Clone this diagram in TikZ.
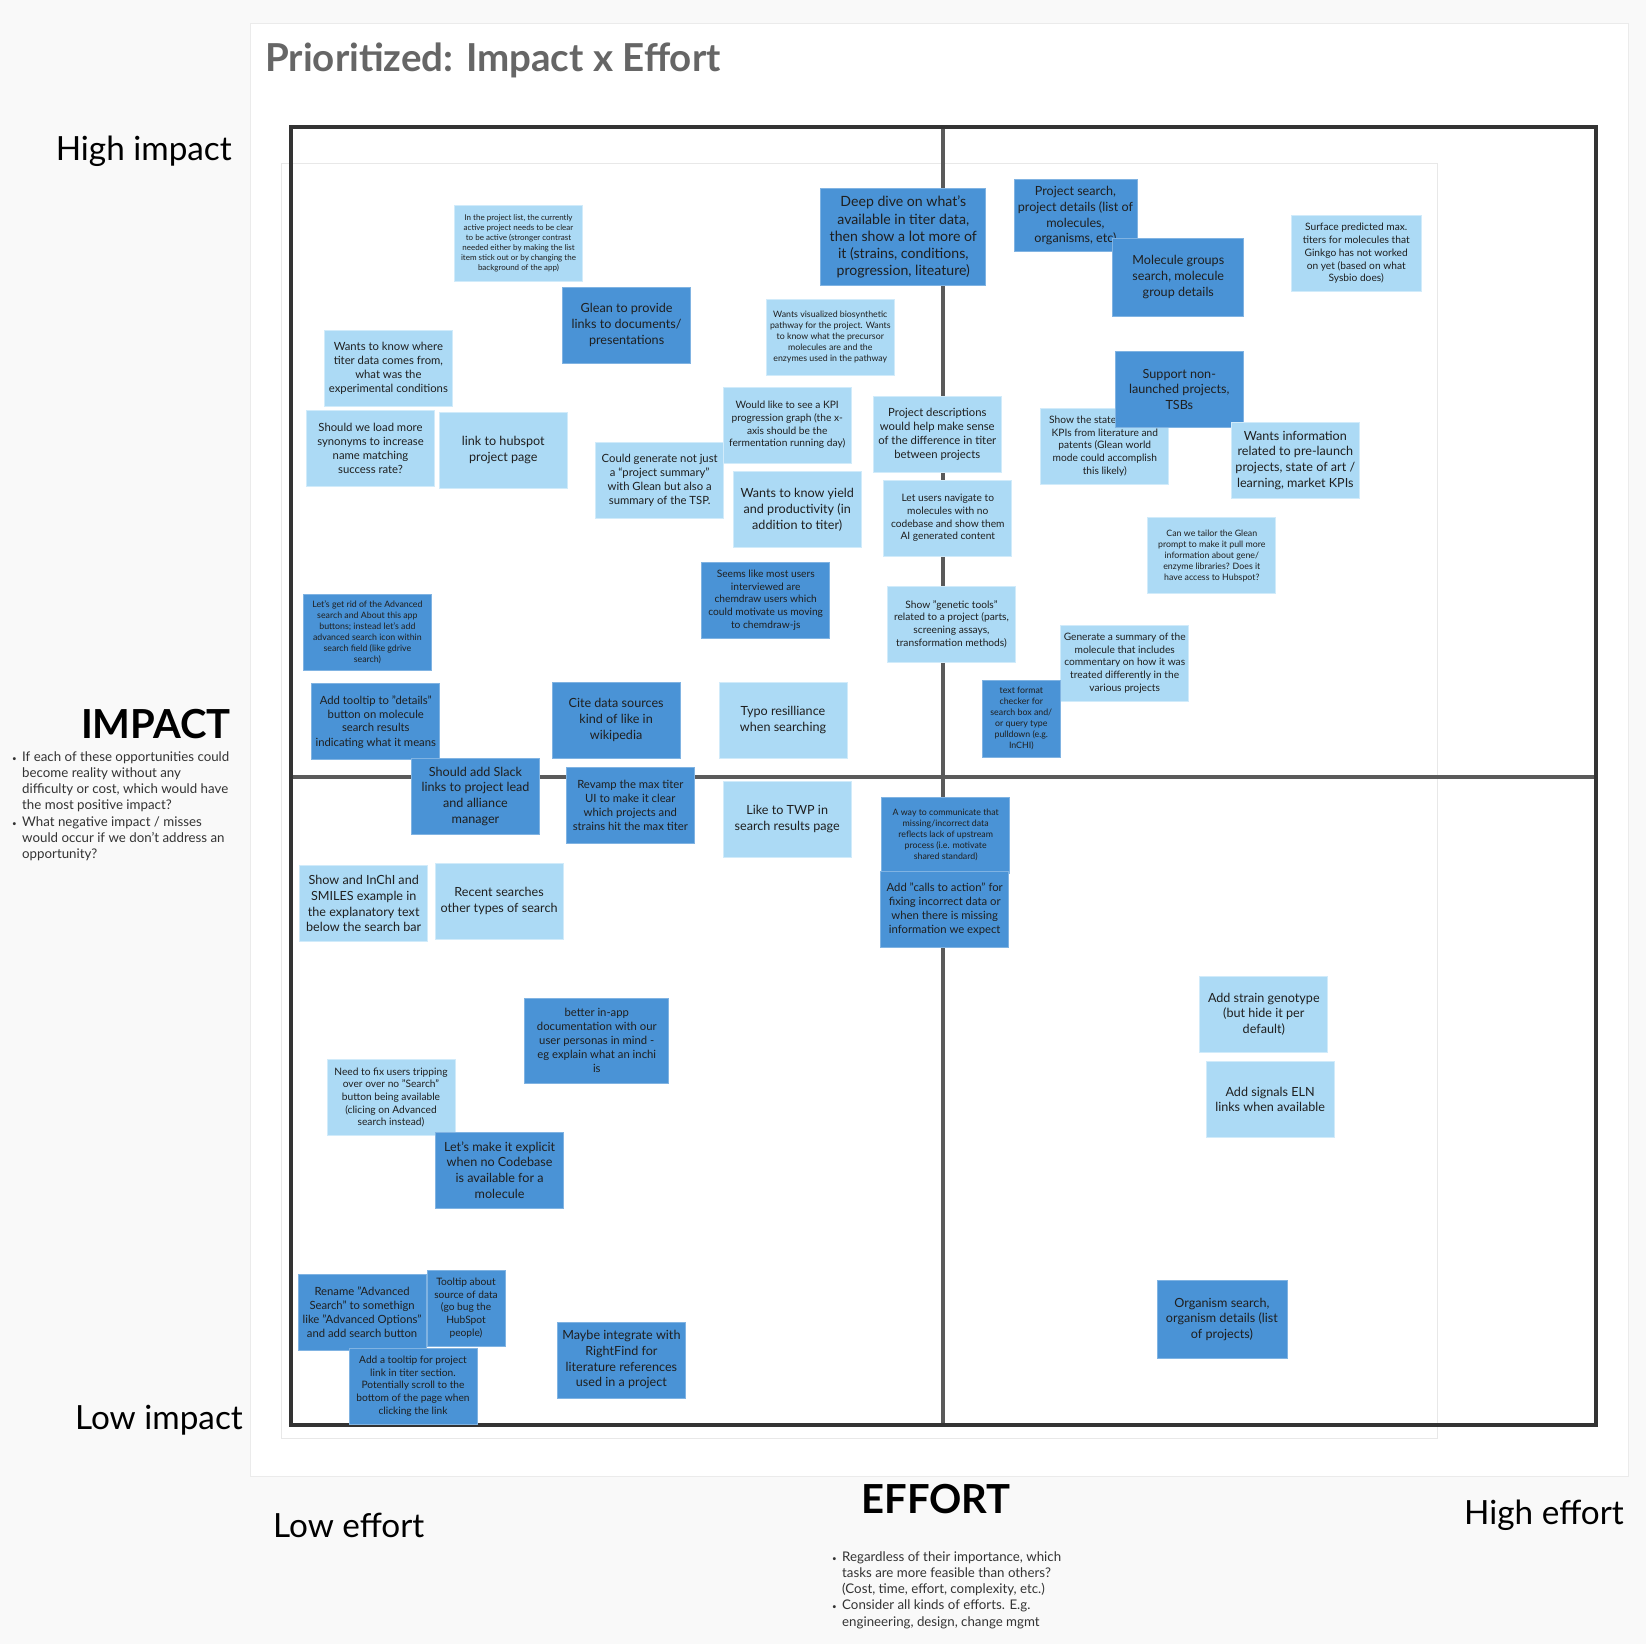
\documentclass[tikz,border=0pt]{standalone}
\usepackage{fontspec}
\setmainfont{Lato}
\usepackage{tikz}
\definecolor{lightnote}{HTML}{ACDAF5}
\definecolor{darknote}{HTML}{4A93D6}
\definecolor{pagegray}{HTML}{F9F9F9}
\definecolor{titlegray}{HTML}{666666}
\definecolor{gridgray}{HTML}{5A5A5A}
\definecolor{framegray}{HTML}{333333}

\begin{document}
\begin{tikzpicture}[x=1pt, y=-1pt,
  note/.style={minimum width=128pt, minimum height=76pt, inner sep=1pt, align=center, text=black!88},
  lnote/.style={note, fill=lightnote, draw=lightnote!55!white, line width=0.8pt},
  dnote/.style={note, fill=darknote, draw=darknote!70!white, line width=0.8pt},
  fa/.style={font=\fontsize{8.0}{9.9}\selectfont},
  fb/.style={font=\fontsize{8.8}{10.9}\selectfont},
  fc/.style={font=\fontsize{10.2}{12.7}\selectfont},
  fd/.style={font=\fontsize{11.3}{14}\selectfont},
  fe/.style={font=\fontsize{12.6}{15.7}\selectfont},
  ff/.style={font=\fontsize{14.1}{17.3}\selectfont},
  axislbl/.style={inner sep=0pt, font=\fontsize{33.3}{38}\selectfont, text=black},
  heading/.style={inner sep=0pt, font=\fontsize{40}{46}\selectfont\bfseries, text=black},
  bul/.style={inner sep=0pt, align=left, font=\fontsize{13.3}{16.3}\selectfont, text=black!80}]
\useasboundingbox (0,0) rectangle (1646,1644);
\fill[pagegray] (0,0) rectangle (1646,1644);
\draw[fill=white, draw=black!8, line width=1pt] (250,23) rectangle (1628,1476);

\node[anchor=west, inner sep=0pt, font=\fontsize{38.5}{44}\selectfont\bfseries, text=titlegray] (title) at (265,60) {Prioritized: Impact x Effort};

% quadrants
\draw[black!9, line width=0.8pt] (281,163) rectangle (1437,1438);
\draw[gridgray, line width=4pt] (943,127) -- (943,1425);
\draw[gridgray, line width=4pt] (291,777) -- (1596,777);
\draw[framegray, line width=3.5pt] (291,127) rectangle (1596,1425);

\node[axislbl, anchor=east] (hiimp) at (232,151) {High impact};
\node[axislbl, anchor=east] (loimp) at (243,1420) {Low impact};
\node[axislbl, anchor=west] (loeff) at (273,1525) {Low effort};
\node[axislbl, anchor=west] (hieff) at (1464,1515) {High effort};

\node[heading, anchor=east] (impact) at (231,724) {IMPACT};
\node[heading] (effort) at (936,1499) {EFFORT};

\node[bul, anchor=north west] (impq) at (12,751) {\makebox[10pt][l]{\scalebox{0.6}{•}}If each of these opportunities could\\
  \hspace*{10pt}become reality without any\\
  \hspace*{10pt}difficulty or cost, which would have\\
  \hspace*{10pt}the most positive impact?\\
  \makebox[10pt][l]{\scalebox{0.6}{•}}What negative impact / misses\\
  \hspace*{10pt}would occur if we don't address an\\
  \hspace*{10pt}opportunity?};
\node[bul, anchor=north west] (effq) at (832,1551) {\makebox[10pt][l]{\scalebox{0.6}{•}}Regardless of their importance, which\\
  \hspace*{10pt}tasks are more feasible than others?\\
  \hspace*{10pt}(Cost, time, effort, complexity, etc.)\\
  \makebox[10pt][l]{\scalebox{0.6}{•}}Consider all kinds of efforts. E.g.\\
  \hspace*{10pt}engineering, design, change mgmt};

% high impact, low effort
\node[lnote, fa] (projlist) at (518.5,243.5) {In the project list, the currently\\active project needs to be clear\\to be active (stronger contrast\\needed either by making the list\\item stick out or by changing the\\background of the app)};
\node[dnote, fe] (gleanlinks) at (626.6,324.9) {Glean to provide\\links to documents/\\presentations};
\node[lnote, fd] (titersrc) at (388.4,368.4) {Wants to know where\\titer data comes from,\\what was the\\experimental conditions};
\node[lnote, fd] (synonyms) at (370.5,448.2) {Should we load more\\synonyms to increase\\name matching\\success rate?};
\node[lnote, fe] (hubspot) at (503.3,450.3) {link to hubspot\\project page};
\node[dnote, ff, minimum width=165pt, minimum height=97pt] (deepdive) at (903.3,237.2) {Deep dive on what's\\available in titer data,\\then show a lot more of\\it (strains, conditions,\\progression, liteature)};
\node[lnote, fb] (pathway) at (830.3,337) {Wants visualized biosynthetic\\pathway for the project. Wants\\to know what the precursor\\molecules are and the\\enzymes used in the pathway};
\node[lnote, fc] (kpigraph) at (787.2,425.1) {Would like to see a KPI\\progression graph (the x-\\axis should be the\\fermentation running day)};
\node[lnote, fd] (tspsum) at (659.7,480.7) {Could generate not just\\a “project summary”\\with Glean but also a\\summary of the TSP.};
\node[lnote, fe] (yield) at (797.2,509.6) {Wants to know yield\\and productivity (in\\addition to titer)};
\node[lnote, fd] (projdesc) at (937.3,434.5) {Project descriptions\\would help make sense\\of the difference in titer\\between projects};
\node[lnote, fc] (nocodebase) at (947.8,518) {Let users navigate to\\molecules with no\\codebase and show them\\AI generated content};
\node[dnote, fc] (chemdraw) at (765.7,599.9) {Seems like most users\\interviewed are\\chemdraw users which\\could motivate us moving\\to chemdraw-js};
\node[dnote, fb] (advsearch) at (367.4,632.4) {Let's get rid of the Advanced\\search and About this app\\buttons; instead let's add\\advanced search icon within\\search field (like gdrive\\search)};
\node[dnote, fd] (details) at (375.8,721.7) {Add tooltip to "details"\\button on molecule\\search results\\indicating what it means};
\node[dnote, fe] (wiki) at (616.1,720.1) {Cite data sources\\kind of like in\\wikipedia};
\node[lnote, fe] (typo) at (783,720.1) {Typo resilliance\\when searching};
\node[lnote, fc] (genetic) at (951.5,624) {Show "genetic tools"\\related to a project (parts,\\screening assays,\\transformation methods)};

% high impact, high effort
\node[dnote, fe, minimum width=123pt, minimum height=72pt] (projsearch) at (1075.4,215.7) {Project search,\\project details (list of\\molecules,\\organisms, etc)};
\node[dnote, fe, minimum width=131pt, minimum height=78pt] (molgroups) at (1178.3,277.1) {Molecule groups\\search, molecule\\group details};
\node[lnote, fc, minimum width=130pt] (maxtiters) at (1356.2,253.5) {Surface predicted max.\\titers for molecules that\\Ginkgo has not worked\\on yet (based on what\\Sysbio does)};
\node[lnote, fc] (stateart) at (1104.8,446.1) {Show the state of the art\\KPIs from literature and\\patents (Glean world\\mode could accomplish\\this likely)};
\node[dnote, fe] (nonlaunch) at (1179.3,389.4) {Support non-\\launched projects,\\TSBs};
\node[lnote, fe] (prelaunch) at (1295.3,460.3) {Wants information\\related to pre-launch\\projects, state of art /\\learning, market KPIs};
\node[lnote, fb] (tailor) at (1211.8,555.8) {Can we tailor the Glean\\prompt to make it pull more\\information about gene/\\enzyme libraries? Does it\\have access to Hubspot?};
\node[lnote, fc] (molsummary) at (1124.7,662.9) {Generate a summary of the\\molecule that includes\\commentary on how it was\\treated differently in the\\various projects};
\node[dnote, fb, minimum width=78pt, minimum height=77pt] (formatchk) at (1021.3,718.5) {text format\\checker for\\search box and/\\or query type\\pulldown (e.g.\\InCHI)};

% low impact
\node[dnote, fe] (slack) at (475.5,796.2) {Should add Slack\\links to project lead\\and alliance\\manager};
\node[dnote, fd] (maxtiterui) at (630.3,805.6) {Revamp the max titer\\UI to make it clear\\which projects and\\strains hit the max titer};
\node[lnote, fe] (twp) at (787.2,819.3) {Like to TWP in\\search results page};
\node[lnote, fe] (smiles) at (363.7,903.8) {Show and InChI and\\SMILES example in\\the explanatory text\\below the search bar};
\node[lnote, fe] (recent) at (499.1,901.2) {Recent searches\\other types of search};
\node[dnote, fd, minimum width=144pt, minimum height=85pt] (inappdoc) at (596.8,1040.8) {better in-app\\documentation with our\\user personas in mind -\\eg explain what an inchi\\is};
\node[lnote, fc] (tripping) at (391,1097.5) {Need to fix users tripping\\over over no "Search"\\button being available\\(clicing on Advanced\\search instead)};
\node[dnote, fe] (explicit) at (499.6,1169.9) {Let's make it explicit\\when no Codebase\\is available for a\\molecule};
\node[dnote, fd] (rename) at (362.1,1312.7) {Rename "Advanced\\Search" to somethign\\like "Advanced Options"\\and add search button};
\node[dnote, fc, minimum width=78pt] (tipsource) at (466,1307.9) {Tooltip about\\source of data\\(go bug the\\HubSpot\\people)};
\node[dnote, fc] (tiplink) at (413,1386.1) {Add a tooltip for project\\link in titer section.\\Potentially scroll to the\\bottom of the page when\\clicking the link};
\node[dnote, fe] (rightfind) at (621.4,1359.9) {Maybe integrate with\\RightFind for\\literature references\\used in a project};
\node[dnote, fb] (upstream) at (945.7,835) {A way to communicate that\\missing/incorrect data\\reflects lack of upstream\\process (i.e. motivate\\shared standard)};
\node[dnote, fd] (calls) at (944.7,909) {Add "calls to action" for\\fixing incorrect data or\\when there is missing\\information we expect};
\node[lnote, fe] (genotype) at (1263.8,1014) {Add strain genotype\\(but hide it per\\default)};
\node[lnote, fe] (eln) at (1270.1,1099.5) {Add signals ELN\\links when available};
\node[dnote, fe, minimum width=130pt, minimum height=78pt] (organism) at (1221.9,1319.4) {Organism search,\\organism details (list\\of projects)};
\end{tikzpicture}
\end{document}
